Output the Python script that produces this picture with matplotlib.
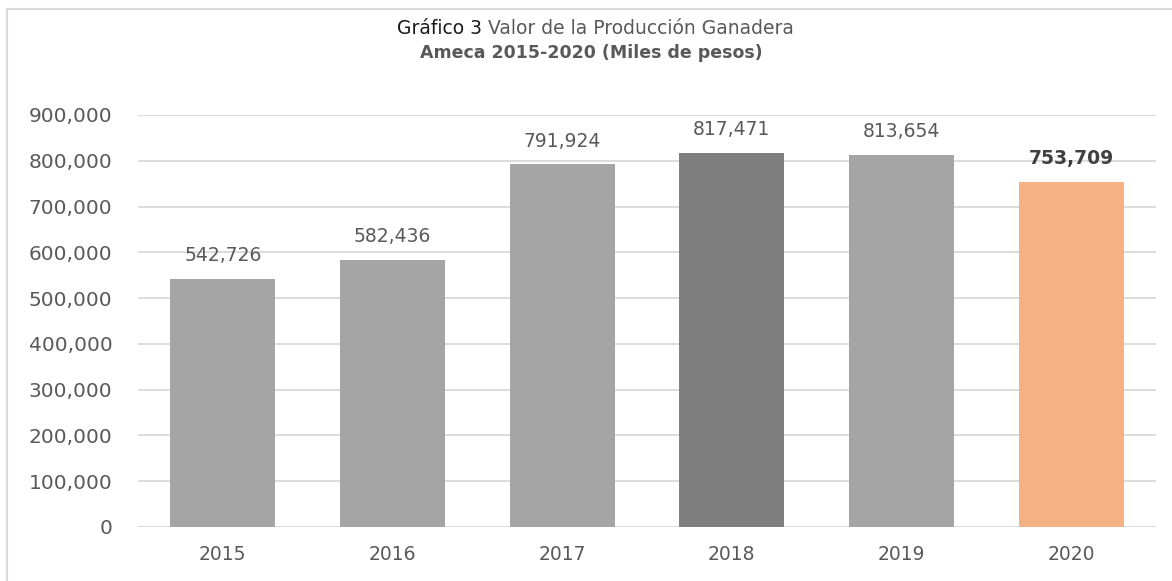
import matplotlib
matplotlib.use('Agg')
from matplotlib import pyplot as plt
from matplotlib.lines import Line2D
from matplotlib.ticker import FuncFormatter

years = ['2015', '2016', '2017', '2018', '2019', '2020']
valores = [542726, 582436, 791924, 817471, 813654, 753709]
colores = ['#A5A5A5', '#A5A5A5', '#A5A5A5', '#7F7F7F', '#A5A5A5', '#F4B183']
y_ticks = [0, 100000, 200000, 300000, 400000, 500000, 600000, 700000, 800000, 900000]

plt.rcParams['font.family'] = ['DejaVu Sans']
txt = '#595959'

fig = plt.figure(figsize=(11.72, 5.81), dpi=100)
ax = fig.add_axes([138/1172, 54/581, 1018/1172, 412/581])

x = range(len(years))
bars = ax.bar(x, valores, width=0.62, color=colores, zorder=2)

for i, (b, v) in enumerate(zip(bars, valores)):
    bold = (i == len(valores) - 1)
    ax.annotate(f'{v:,}', (b.get_x() + b.get_width()/2, v), xytext=(0, 10),
                textcoords='offset points', ha='center', va='bottom',
                fontsize=13.5, color='#404040' if bold else txt,
                fontweight='bold' if bold else 'normal')

ax.set_xlim(-0.5, len(years) - 0.5)
ax.set_ylim(0, 900000)
ax.set_yticks(y_ticks)
ax.yaxis.set_major_formatter(FuncFormatter(lambda v, p: f'{int(v):,}'))
ax.set_xticks(list(x))
ax.set_xticklabels(years)
ax.tick_params(axis='both', length=0, labelsize=13.5, labelcolor=txt)
ax.tick_params(axis='y', labelsize=14.5, pad=18.5)
ax.tick_params(axis='x', pad=13)
ax.grid(axis='y', color='#D9D9D9', linewidth=1.3, zorder=0)
for s in ax.spines.values():
    s.set_visible(False)

# titulo en dos colores
t1 = fig.text(397/1172, 1 - 28/581, 'Gráfico 3', fontsize=13.5, color='#1a1a1a',
              ha='left', va='center')
ax.annotate(' Valor de la Producción Ganadera', xy=(1, 0.5), xycoords=t1,
            ha='left', va='center', fontsize=13.5, color=txt)
fig.text(591/1172, 1 - 53/581, 'Ameca 2015-2020 (Miles de pesos)', fontsize=12.5,
         color=txt, fontweight='bold', ha='center', va='center')

# marco
fig.add_artist(Line2D([6.5/1172, 6.5/1172], [0, 1 - 9/581], color='#D9D9D9',
                      linewidth=1.5, transform=fig.transFigure))
fig.add_artist(Line2D([6.5/1172, 1], [1 - 9/581, 1 - 9/581], color='#D9D9D9',
                      linewidth=1.5, transform=fig.transFigure))

fig.savefig('out.png', dpi=100)
